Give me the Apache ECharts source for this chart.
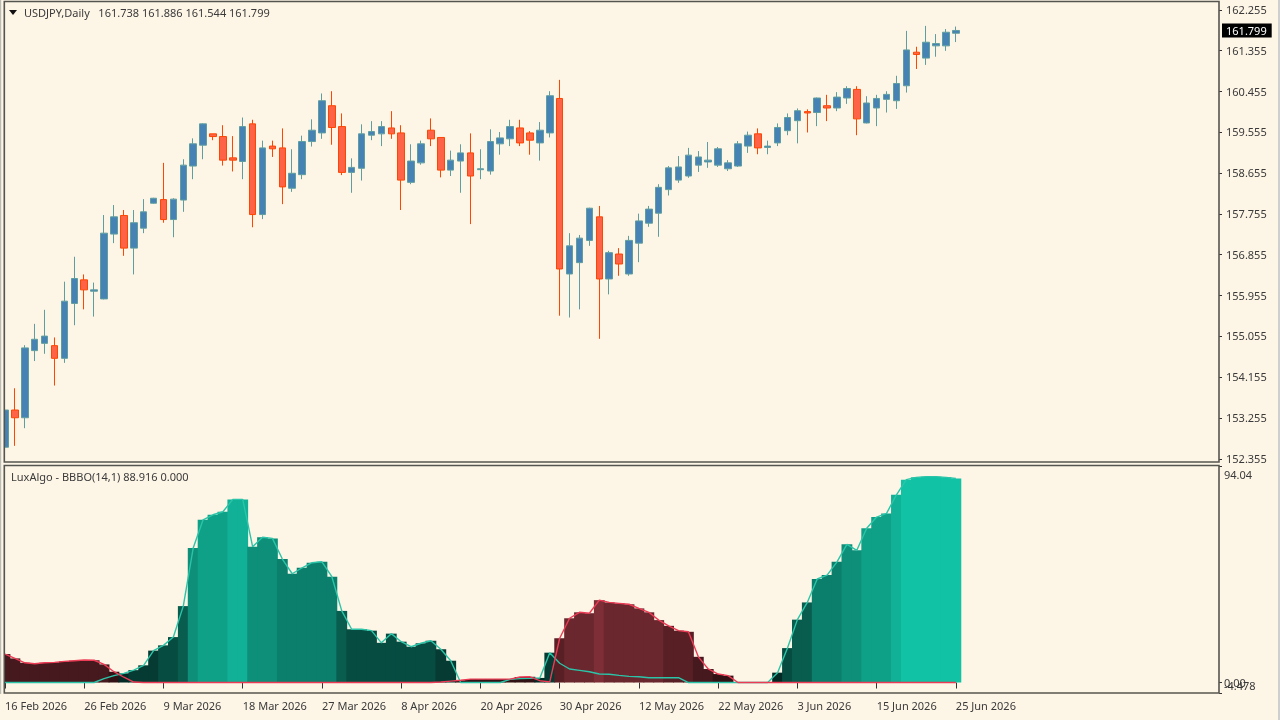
<!DOCTYPE html>
<html>
<head>
<meta charset="utf-8">
<title>USDJPY,Daily</title>
<script src="https://cdn.jsdelivr.net/npm/echarts@6/dist/echarts.min.js"></script>
<style>
html, body { margin: 0; padding: 0; background: #FDF5E6; }
#ct1 { width: 1280px; height: 720px; }
</style>
</head>
<body>
<div id="ct1"></div>
<script>
var dates = [
	'16 Feb 2026','17 Feb 2026','18 Feb 2026','19 Feb 2026','20 Feb 2026','23 Feb 2026','24 Feb 2026','25 Feb 2026','26 Feb 2026','27 Feb 2026',
	'2 Mar 2026','3 Mar 2026','4 Mar 2026','5 Mar 2026','6 Mar 2026','8 Mar 2026','9 Mar 2026','10 Mar 2026','11 Mar 2026','12 Mar 2026',
	'13 Mar 2026','15 Mar 2026','16 Mar 2026','17 Mar 2026','18 Mar 2026','19 Mar 2026','20 Mar 2026','22 Mar 2026','23 Mar 2026','24 Mar 2026',
	'25 Mar 2026','26 Mar 2026','27 Mar 2026','30 Mar 2026','31 Mar 2026','1 Apr 2026','2 Apr 2026','3 Apr 2026','6 Apr 2026','7 Apr 2026',
	'8 Apr 2026','9 Apr 2026','10 Apr 2026','13 Apr 2026','14 Apr 2026','15 Apr 2026','16 Apr 2026','17 Apr 2026','20 Apr 2026','21 Apr 2026',
	'22 Apr 2026','23 Apr 2026','24 Apr 2026','27 Apr 2026','28 Apr 2026','29 Apr 2026','30 Apr 2026','1 May 2026','4 May 2026','5 May 2026',
	'6 May 2026','7 May 2026','8 May 2026','11 May 2026','12 May 2026','13 May 2026','14 May 2026','15 May 2026','18 May 2026','19 May 2026',
	'20 May 2026','21 May 2026','22 May 2026','25 May 2026','26 May 2026','27 May 2026','28 May 2026','29 May 2026','1 Jun 2026','2 Jun 2026',
	'3 Jun 2026','4 Jun 2026','5 Jun 2026','8 Jun 2026','9 Jun 2026','10 Jun 2026','11 Jun 2026','12 Jun 2026','15 Jun 2026','16 Jun 2026',
	'17 Jun 2026','18 Jun 2026','19 Jun 2026','22 Jun 2026','23 Jun 2026','24 Jun 2026','25 Jun 2026'
];
var opens = [
	152.61,153.43,153.26,154.74,154.90,154.85,154.57,155.78,156.30,156.05,
	155.88,157.31,157.72,157.00,157.44,157.99,158.07,157.63,158.06,158.81,
	159.27,159.52,159.46,158.99,158.91,159.74,157.74,159.25,159.21,158.32,
	158.62,159.35,159.54,160.14,159.68,158.67,158.76,159.49,159.52,159.65,
	159.54,158.45,158.88,159.60,159.44,158.72,158.92,159.10,158.73,158.70,
	159.30,159.41,159.65,159.54,159.32,159.54,160.30,156.43,156.68,157.17,
	157.69,156.32,156.87,156.43,157.11,157.55,157.77,158.29,158.50,158.59,
	158.83,158.90,158.83,158.75,158.81,159.25,159.52,159.22,159.32,159.59,
	159.81,160.01,159.99,160.14,160.09,160.31,160.50,159.76,160.09,160.28,
	160.25,160.58,161.32,161.19,161.46,161.46,161.738
];
var closes = [
	153.43,153.26,154.80,154.99,155.06,154.57,155.83,156.33,156.08,156.08,
	157.33,157.69,157.00,157.56,157.80,158.10,157.63,158.08,158.83,159.30,
	159.74,159.46,158.94,158.94,159.68,157.74,159.21,159.19,158.35,158.65,
	159.35,159.60,160.25,159.66,158.67,158.78,159.52,159.57,159.68,159.52,
	158.50,158.92,159.30,159.41,158.72,158.94,159.10,158.59,158.75,159.35,
	159.43,159.68,159.32,159.38,159.60,160.36,156.54,157.05,157.22,157.88,
	156.32,156.90,156.65,157.17,157.60,157.86,158.34,158.77,158.79,159.05,
	159.01,158.94,159.19,158.88,159.30,159.49,159.21,159.25,159.66,159.88,
	160.03,159.98,160.31,160.09,160.33,160.52,159.85,160.20,160.30,160.39,
	160.63,161.37,161.27,161.54,161.51,161.76,161.799
];
var lows = [
	152.49,152.64,153.03,154.51,154.67,153.97,154.47,155.30,155.65,155.49,
	155.87,157.11,156.83,156.42,157.33,157.98,157.56,157.24,157.80,158.52,
	158.96,159.38,158.82,158.69,158.52,157.46,157.64,159.01,157.97,158.24,
	158.52,159.24,159.41,159.28,158.61,158.22,158.49,159.38,159.25,159.41,
	157.84,158.41,158.84,159.25,158.56,158.59,158.22,157.53,158.52,158.62,
	159.06,159.25,159.25,159.06,158.93,159.44,155.51,155.47,155.65,157.05,
	155.00,155.98,156.39,156.39,156.69,157.47,157.25,158.16,158.44,158.55,
	158.68,158.77,158.79,158.70,158.79,159.10,159.07,159.07,159.25,159.49,
	159.31,159.55,159.69,159.80,160.02,160.18,159.49,159.75,159.69,159.99,
	160.07,160.43,160.95,161.04,161.22,161.35,161.544
];
var highs = [
	153.65,153.91,154.86,155.33,155.64,155.03,156.26,156.81,156.42,156.24,
	157.73,157.95,157.84,157.84,158.08,158.11,158.88,158.10,158.96,159.42,
	159.75,159.52,159.71,159.47,159.88,159.83,159.37,159.37,159.64,159.18,
	159.48,159.84,160.41,160.46,159.97,158.98,159.73,159.80,159.80,160.02,
	159.71,159.29,159.37,159.86,159.44,159.15,159.29,159.53,159.18,159.62,
	159.56,159.83,159.83,159.58,159.78,160.46,160.71,157.33,157.29,157.89,
	157.93,156.94,157.00,157.27,157.76,157.93,158.41,158.81,159.03,159.21,
	159.14,159.34,159.23,158.94,159.36,159.57,159.64,159.37,159.75,159.97,
	160.08,160.06,160.32,160.38,160.44,160.57,160.57,160.35,160.38,160.46,
	160.80,161.79,161.44,161.90,161.72,161.83,161.886
];
var bullValues = [
	0,0,0,0,0,0,0,0,0,0,
	1.7,3.0,4.0,5.4,7.5,13.9,16.2,19.8,33.3,58.6,
	70.9,73.1,74.4,79.8,79.8,59.2,63.3,62.8,53.8,47.4,
	50.0,52.2,52.6,46.1,31.2,23.2,23.2,22.6,17.3,21.3,
	17.8,15.6,17.1,18.2,14.5,9.5,0,0,0,0,
	0,1.4,1.7,1.8,2.0,13.0,8.4,5.9,5.3,4.7,
	3.7,3.6,3.1,2.7,2.5,2.1,2.1,2.1,2.1,0,
	0,0,0,0,0,0,0,0,4.3,15.0,
	27.4,34.9,45.1,46.8,52.6,60.2,57.6,67.2,72.1,73.7,
	81.8,88.4,89.4,89.7,89.7,89.4,88.916
];
var bearValues = [
	12.4,10.5,8.6,8.2,8.6,8.8,9.2,9.5,9.8,9.7,
	7.9,4.7,2.3,0.2,0,0,0,0,0,0,
	0,0,0,0,0,0,0,0,0,0,
	0,0,0,0,0,0,0,0,0,0,
	0,0,0,0,0.2,0.6,1.0,1.5,1.5,1.5,
	1.5,1.5,2.4,2.5,0.8,0.3,19.3,28.0,30.6,30.2,
	35.9,34.9,34.5,34.1,32.3,30.6,27.2,24.7,22.6,22.1,
	11.2,5.9,3.7,3.0,0,0,0,0,0,0,
	0,0,0,0,0,0,0,0,0,0,
	0,0,0,0,0,0,0
];
var priceTicks = [162.255,161.355,160.455,159.555,158.655,157.755,156.855,155.955,155.055,154.155,153.255,152.355];
var lastPrice = 161.799;
var oscTicks = [94.04,-4.478];
var oscZero = [0];

var textColor = '#3a3a3a';
var paperColor = '#FDF5E6';
var axisFont = '"Noto Sans", sans-serif';
var emptySlots = 26;

function padCategories() {
	var list = dates.slice();
	for (var i = 0; i < emptySlots; i++) {
		list.push('');
	}
	return list;
}
function mixColor(from, to, t) {
	var out = [];
	t = Math.min(1, Math.max(0, t));
	for (var i = 0; i < 3; i++) {
		out.push(Math.round(from[i] + (to[i] - from[i]) * t));
	}
	return 'rgb(' + out.join(',') + ')';
}
// the colour moves in steps of ten, neighbouring bars share a shade
function histColor(params) {
	var i = params.dataIndex;
	if (bullValues[i] >= bearValues[i]) {
		return mixColor([4, 42, 37], [18, 194, 164], Math.round(bullValues[i] / 10) * 10 / 90);
	}
	return mixColor([50, 18, 20], [126, 46, 54], Math.round(bearValues[i] / 10) * 10 / 40);
}
function candleData() {
	var list = [];
	for (var i = 0; i < opens.length; i++) {
		list.push([opens[i], closes[i], lows[i], highs[i]]);
	}
	return list;
}
function histData() {
	var list = [];
	for (var i = 0; i < bullValues.length; i++) {
		list.push(Math.max(bullValues[i], bearValues[i]));
	}
	return list;
}
function dateTick(i) {
	return i % 8 == 0 && i < dates.length;
}
function frame(x, y, w, h) {
	return {
		type : 'rect',
		silent : true,
		z : 20,
		shape : { x : x, y : y, width : w, height : h },
		style : { fill : 'none', stroke : '#55554f', lineWidth : 1.6 }
	};
}
function block(x, w, color, z) {
	return {
		type : 'rect',
		silent : true,
		z : z,
		shape : { x : x, y : 0, width : w, height : 694 },
		style : { fill : color }
	};
}

var categories = padCategories();
var option1 = {
	backgroundColor : paperColor,
	animation : false,
	textStyle : { fontFamily : axisFont },
	title : [{
		text : 'USDJPY,Daily   161.738 161.886 161.544 161.799',
		left : 19,
		top : 3,
		textStyle : { fontSize : 11, fontWeight : 'normal', color : textColor, fontFamily : axisFont }
	}, {
		text : 'LuxAlgo - BBBO(14,1) 88.916 0.000',
		left : 6,
		top : 467,
		textStyle : { fontSize : 11, fontWeight : 'normal', color : textColor, fontFamily : axisFont }
	}],
	graphic : [
		block(0, 4.6, paperColor, 15),
		block(0, 1.2, '#bdbdb8', 16),
		frame(4.3, 1.5, 1214.7, 460.5),
		frame(4.3, 465.5, 1214.7, 227.5),
		{
			type : 'polygon',
			silent : true,
			z : 20,
			shape : { points : [[9, 10], [17, 10], [13, 15]] },
			style : { fill : '#111' }
		},
		{
			type : 'rect',
			silent : true,
			z : 20,
			shape : { x : 1278, y : 0, width : 2, height : 720 },
			style : { fill : '#cfcfcf' }
		}
	],
	grid : [
		{ left : 5, top : 2, width : 1208.4, height : 460 },
		{ left : 5, top : 466.7, width : 1208.4, height : 226.1 }
	],
	xAxis : [{
		type : 'category',
		gridIndex : 0,
		data : categories,
		boundaryGap : false,
		show : false
	}, {
		type : 'category',
		gridIndex : 1,
		data : categories,
		boundaryGap : false,
		axisLine : { show : false },
		axisTick : {
			length : 6,
			alignWithLabel : true,
			interval : dateTick,
			lineStyle : { color : '#333', width : 1 }
		},
		axisLabel : {
			interval : dateTick,
			align : 'left',
			margin : 9,
			fontSize : 11,
			color : textColor,
			hideOverlap : false
		}
	}],
	yAxis : [{
		type : 'value',
		gridIndex : 0,
		position : 'right',
		offset : 5.6,
		min : 152.284,
		max : 162.427,
		splitLine : { show : false },
		axisLine : { show : false },
		axisTick : {
			show : true,
			length : 3,
			customValues : priceTicks,
			lineStyle : { color : '#333' }
		},
		axisLabel : {
			margin : 3,
			customValues : priceTicks.concat([lastPrice]),
			formatter : function(v) {
				var txt = v.toFixed(3);
				return (v == lastPrice ? '{cur|' : '{num|') + txt + '}';
			},
			rich : {
				num : { fontSize : 11, color : textColor, padding : [2, 0, 0, 4] },
				cur : { fontSize : 11, color : '#fff', backgroundColor : '#000', padding : [3, 5, 0, 4] }
			}
		}
	}, {
		type : 'value',
		gridIndex : 1,
		position : 'right',
		offset : 5.6,
		min : -4.478,
		max : 94.04,
		splitLine : { show : false },
		axisLine : { show : false },
		axisTick : {
			show : true,
			length : 3,
			customValues : oscTicks,
			lineStyle : { color : '#333' }
		},
		axisLabel : {
			margin : 5,
			customValues : oscTicks,
			showMinLabel : true,
			showMaxLabel : true,
			formatter : function(v) {
				return v > 0 ? '{top|' + v + '}' : '{low|' + v + '}';
			},
			rich : {
				top : { fontSize : 11, color : textColor, padding : [18, 0, 0, 0] },
				low : { fontSize : 11, color : textColor, padding : [0, 0, 11, 0] }
			}
		}
	}, {
		// second axis on the same scale, the 0.00 label sits on top of -4.478 in the terminal
		type : 'value',
		gridIndex : 1,
		position : 'right',
		offset : 5.6,
		min : -4.478,
		max : 94.04,
		splitLine : { show : false },
		axisLine : { show : false },
		axisTick : {
			show : true,
			length : 3,
			customValues : oscZero,
			lineStyle : { color : '#333' }
		},
		axisLabel : {
			margin : 5,
			customValues : oscZero,
			formatter : function(v) {
				return '{zero|' + v.toFixed(2) + '}';
			},
			rich : {
				zero : { fontSize : 11, color : textColor, padding : [3, 0, 0, 0] }
			}
		}
	}],
	series : [{
		name : 'USDJPY',
		type : 'candlestick',
		xAxisIndex : 0,
		yAxisIndex : 0,
		barWidth : 7,
		data : candleData(),
		itemStyle : {
			color : '#4682B4',
			color0 : '#FF6347',
			borderColor : '#5F9EA0',
			borderColor0 : '#FF4500',
			borderWidth : 1
		}
	}, {
		name : 'BBBO',
		type : 'bar',
		xAxisIndex : 1,
		yAxisIndex : 1,
		barWidth : 10.8,
		data : histData(),
		itemStyle : { color : histColor }
	}, {
		name : 'Bull',
		type : 'line',
		xAxisIndex : 1,
		yAxisIndex : 1,
		showSymbol : false,
		data : bullValues,
		z : 3,
		lineStyle : { color : '#2BC4A8', width : 1.4 }
	}, {
		name : 'Bear',
		type : 'line',
		xAxisIndex : 1,
		yAxisIndex : 1,
		showSymbol : false,
		data : bearValues,
		z : 4,
		lineStyle : { color : '#EC3B55', width : 1.4 }
	}]
};

var myChart1 = echarts.init(document.getElementById('ct1'));
myChart1.setOption(option1, true);
</script>
</body>
</html>
